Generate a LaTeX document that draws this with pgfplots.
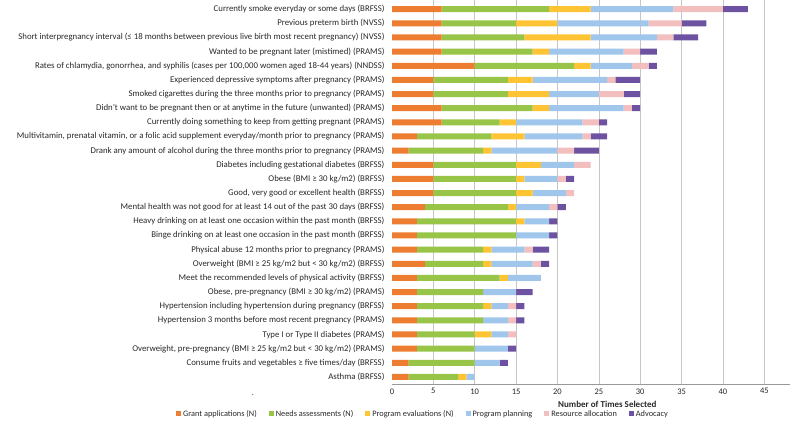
\documentclass[border=0pt]{standalone}
\usepackage{pgfplots}
\pgfplotsset{compat=1.18}
\usepackage{pgfplotstable}
\usepackage{fontspec}
\setmainfont{Carlito}
\definecolor{cgrant}{RGB}{237,125,49}
\definecolor{cneeds}{RGB}{152,196,72}
\definecolor{ceval}{RGB}{255,196,52}
\definecolor{cplan}{RGB}{160,198,236}
\definecolor{cres}{RGB}{243,190,190}
\definecolor{cadv}{RGB}{108,82,160}
\definecolor{ctext}{RGB}{40,40,40}

% y, grant, needs, eval, planning, resource, advocacy  (bottom row first)
\pgfplotstableread{
y ga na pe pp ra adv
0  2  6 1  1 0 0
1  2  8 0  3 0 1
2  3  7 0  4 0 1
3  3  7 2  2 1 0
4  3  8 0  3 1 1
5  3  8 1  2 1 1
6  3  8 0  4 0 2
7  3 10 1  4 0 0
8  4  7 1  5 1 1
9  3  8 1  4 1 2
10 3 12 0  4 0 1
11 3 12 1  3 0 1
12 4 10 1  4 1 1
13 5 10 2  4 1 0
14 5 10 1  4 1 1
15 5 10 3  4 2 0
16 2  9 1  8 2 3
17 3  9 4  7 1 2
18 6  7 2  8 2 1
19 6 11 2  9 1 1
20 5  9 5  6 3 2
21 5  9 3  9 1 3
22 10 12 2 5 2 1
23 6 11 2  9 2 2
24 6 10 8  8 2 3
25 6  9 5 11 4 3
26 6 13 5 10 6 3
}\datatable

\begin{document}
\begin{tikzpicture}
\useasboundingbox (0,0) rectangle (800pt,422pt);
\begin{axis}[
    at={(392pt,38pt)}, anchor=south west,
    scale only axis,
    width=398pt, height=384pt,
    xbar stacked,
    bar width=6pt,
    xmin=0, xmax=48.1,
    ymin=-0.5, ymax=26.65,
    axis lines=left,
    axis line style={draw=gray!80, -},
    y axis line style={draw=none},
    xtick={5,10,...,45},
    extra x ticks={0},
    extra x tick style={grid=none},
    xmajorgrids,
    grid style={draw=gray!45, line width=0.5pt},
    major tick length=0pt,
    ytick={0,...,26},
    yticklabels={
      Asthma (BRFSS),
      Consume fruits and vegetables ≥ five times/day (BRFSS),
      {Overweight, pre-pregnancy (BMI ≥ 25 kg/m2 but < 30 kg/m2) (PRAMS)},
      Type I or Type II diabetes (PRAMS),
      Hypertension 3 months before  most recent pregnancy (PRAMS),
      Hypertension including hypertension during pregnancy (BRFSS),
      {Obese, pre-pregnancy (BMI ≥ 30 kg/m2) (PRAMS)},
      Meet the recommended levels of physical activity (BRFSS),
      Overweight (BMI ≥ 25 kg/m2 but < 30 kg/m2) (BRFSS),
      Physical abuse 12 months prior to pregnancy (PRAMS),
      Binge drinking on at least one occasion in the past month (BRFSS),
      Heavy drinking on at least one occasion within the past month (BRFSS),
      Mental health was not good for at least 14 out of the past 30 days (BRFSS),
      {Good, very good or excellent health (BRFSS)},
      Obese (BMI ≥ 30 kg/m2) (BRFSS),
      Diabetes including gestational diabetes (BRFSS),
      Drank any amount of alcohol during the three months prior to pregnancy (PRAMS),
      {Multivitamin, prenatal vitamin, or a folic acid supplement everyday/month prior to pregnancy (PRAMS)},
      Currently doing something to keep from getting pregnant (PRAMS),
      Didn’t want to be pregnant then or at anytime in the future (unwanted) (PRAMS),
      Smoked cigarettes during the three months prior to pregnancy (PRAMS),
      Experienced depressive symptoms after pregnancy (PRAMS),
      {Rates of chlamydia, gonorrhea, and syphilis (cases per 100,000 women aged 18-44 years) (NNDSS)},
      Wanted to be pregnant later (mistimed) (PRAMS),
      Short interpregnancy interval (≤ 18 months between previous live birth most recent pregnancy) (NVSS),
      Previous preterm birth (NVSS),
      Currently smoke everyday or some days (BRFSS)
    },
    yticklabel style={font=\fontsize{8.8}{10}\selectfont, text=ctext, xshift=-4pt},
    xticklabel style={font=\fontsize{8.5}{10}\selectfont, text=gray!30!black, yshift=-1pt},
    /pgf/number format/assume math mode=true,
    xlabel={\textbf{Number of Times Selected}},
    xlabel style={font=\fontsize{9}{11}\selectfont, text=ctext,
      at={(axis description cs:0.541,-0.052)}, anchor=center},
    legend style={draw=none, fill=none,
      font=\fontsize{8.3}{9}\selectfont, text=ctext,
      at={(axis description cs:0.078,-0.078)}, anchor=center,
      legend columns=6,
      /tikz/every even column/.append style={column sep=10pt}},
    legend image code/.code={\fill[#1] (0pt,-2.5pt) rectangle (5pt,2.5pt);},
]
\addplot[fill=cgrant, draw=none] table[x=ga, y=y] {\datatable};
\addplot[fill=cneeds, draw=none] table[x=na, y=y] {\datatable};
\addplot[fill=ceval, draw=none] table[x=pe, y=y] {\datatable};
\addplot[fill=cplan, draw=none] table[x=pp, y=y] {\datatable};
\addplot[fill=cres, draw=none] table[x=ra, y=y] {\datatable};
\addplot[fill=cadv, draw=none] table[x=adv, y=y] {\datatable};
\legend{Grant applications (N), Needs assessments (N), Program evaluations (N), Program planning, Resource allocation, Advocacy}
\end{axis}
\node[font=\fontsize{8}{9}\selectfont, text=ctext] at (253pt,27pt) {.};
\end{tikzpicture}
\end{document}
